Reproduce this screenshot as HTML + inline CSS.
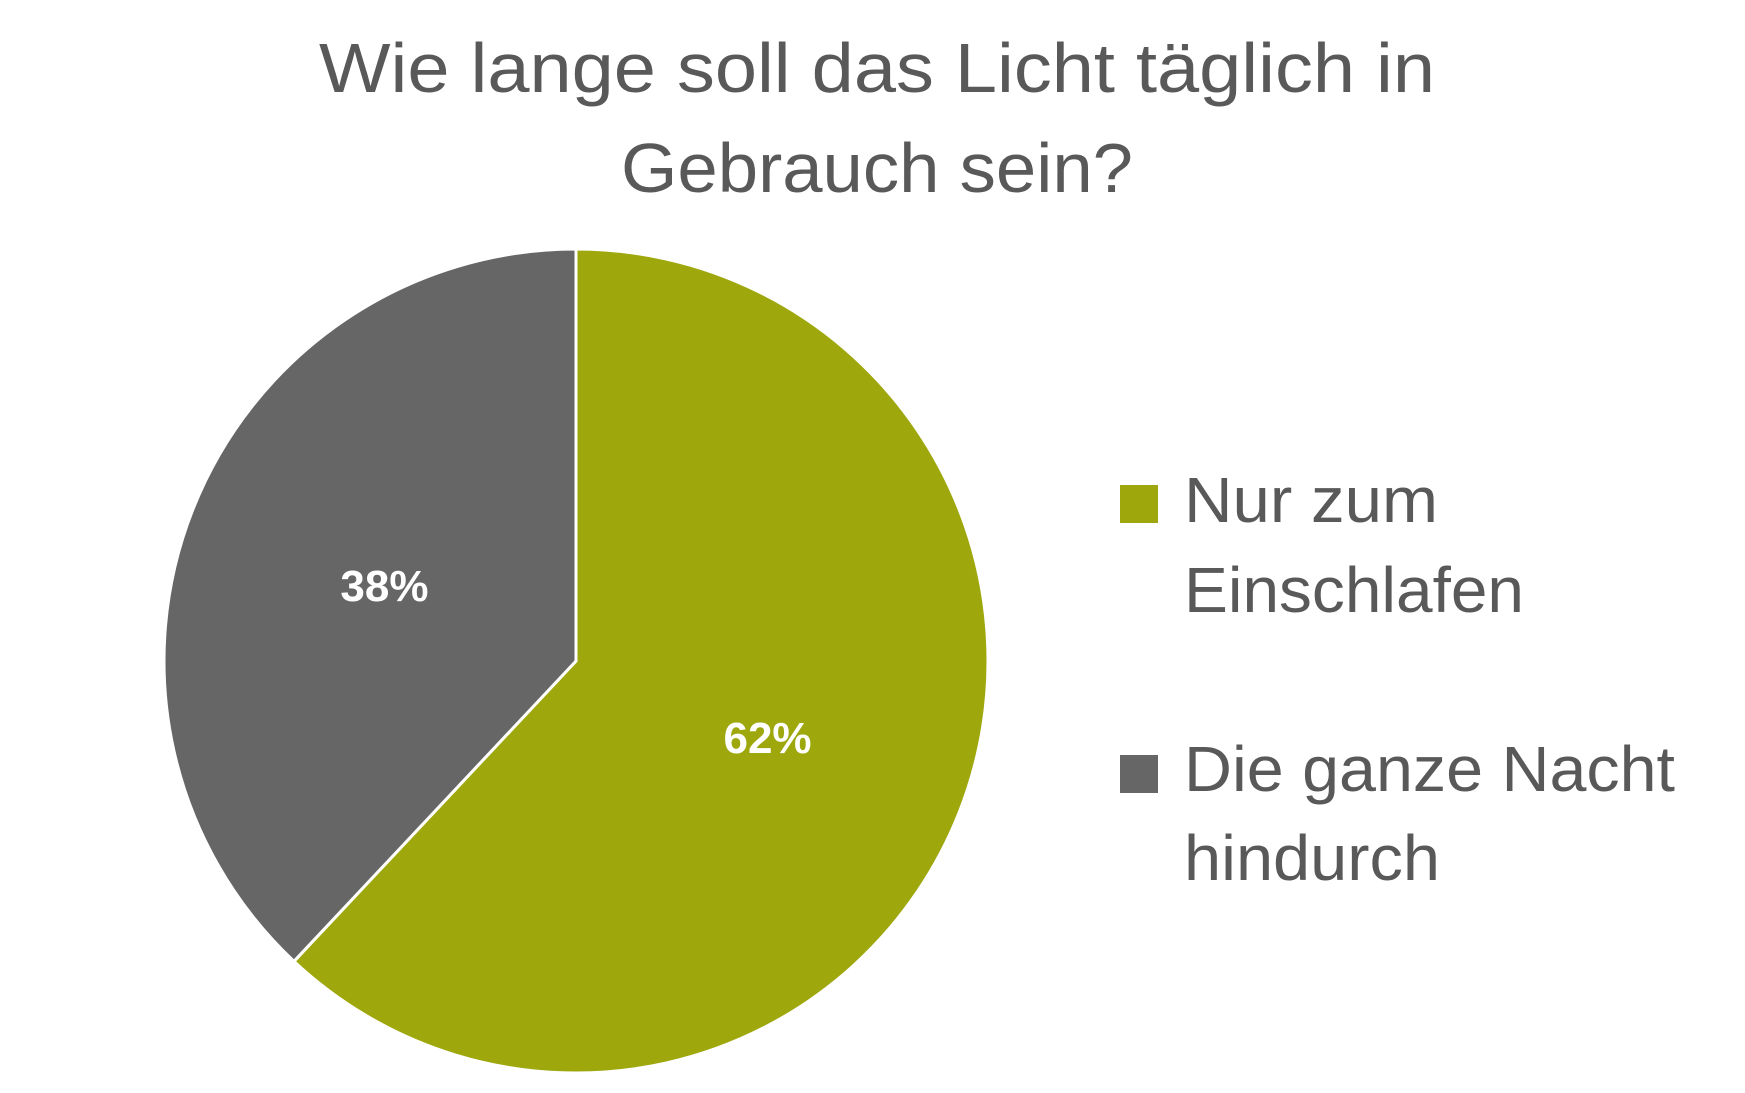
<!DOCTYPE html>
<html><head><meta charset="utf-8"><style>
html,body{margin:0;padding:0;background:#fff;}
svg{display:block;font-family:"Liberation Sans",sans-serif;}
</style></head><body>
<svg id="chart" width="1745" height="1093" viewBox="0 0 1745 1093">
<text x="877" y="92" text-anchor="middle" font-size="70" fill="#595959" textLength="1116" lengthAdjust="spacingAndGlyphs">Wie lange soll das Licht täglich in</text>
<text x="877" y="192" text-anchor="middle" font-size="70" fill="#595959" textLength="512" lengthAdjust="spacingAndGlyphs">Gebrauch sein?</text>
<g id="slices"></g>
<g id="labels"></g>
<g>
<rect x="1120" y="485" width="38" height="38" fill="#9EA70C"/>
<text x="1184" y="522" font-size="64" fill="#595959" textLength="254" lengthAdjust="spacingAndGlyphs">Nur zum</text>
<text x="1184" y="612" font-size="64" fill="#595959" textLength="340" lengthAdjust="spacingAndGlyphs">Einschlafen</text>
<rect x="1120" y="755" width="38" height="38" fill="#666666"/>
<text x="1184" y="791" font-size="64" fill="#595959" textLength="491" lengthAdjust="spacingAndGlyphs">Die ganze Nacht</text>
<text x="1184" y="880" font-size="64" fill="#595959" textLength="256" lengthAdjust="spacingAndGlyphs">hindurch</text>
</g>
</svg>
<script>
const categories = ["Nur zum Einschlafen", "Die ganze Nacht hindurch"];
const values = [62, 38];
const valueLabels = ["62%", "38%"];
const colors = ["#9EA70C", "#666666"];
const cx = 576, cy = 661, r = 412;
const NS = "http://www.w3.org/2000/svg";
const total = values.reduce((a,b)=>a+b,0);
const sg = document.getElementById("slices"), lg = document.getElementById("labels");
function pt(a, rr){ return [cx + rr*Math.sin(a), cy - rr*Math.cos(a)]; }
let start = 0;
values.forEach((v,i)=>{
  const ang = v/total*2*Math.PI, end = start+ang;
  const [x1,y1]=pt(start,r), [x2,y2]=pt(end,r);
  const p = document.createElementNS(NS,"path");
  p.setAttribute("d",`M${cx},${cy} L${x1},${y1} A${r},${r} 0 ${ang>Math.PI?1:0} 1 ${x2},${y2} Z`);
  p.setAttribute("fill",colors[i]);
  p.setAttribute("stroke","#fff");
  p.setAttribute("stroke-width","3");
  
  
  sg.appendChild(p);
  const [lx,ly]=pt(start+ang/2, r*0.5);
  const t = document.createElementNS(NS,"text");
  t.setAttribute("x",lx); t.setAttribute("y",ly+16);
  t.setAttribute("text-anchor","middle");
  t.setAttribute("font-size","44"); t.setAttribute("font-weight","bold");
  t.setAttribute("fill","#fff");
  t.textContent = valueLabels[i];
  
  
  lg.appendChild(t);
  start = end;
});
</script>
</body></html>
